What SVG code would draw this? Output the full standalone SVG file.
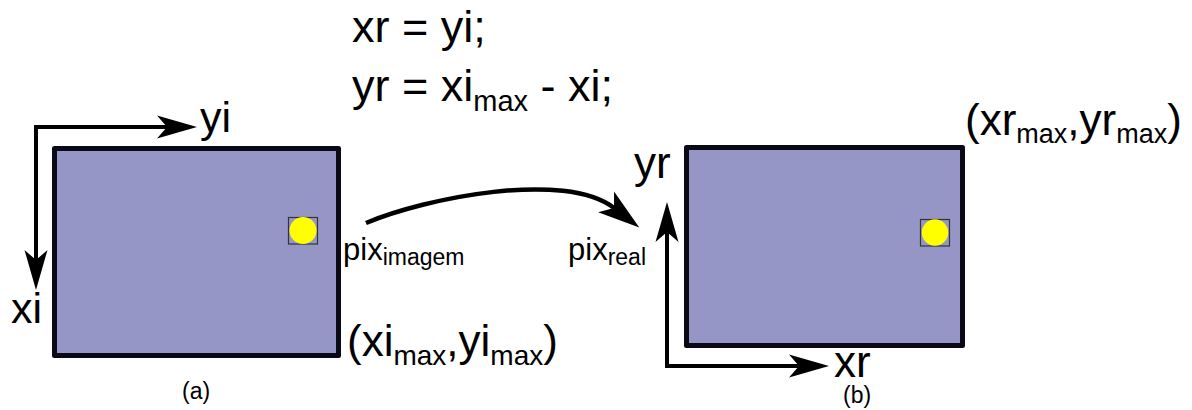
<svg xmlns="http://www.w3.org/2000/svg" width="1192" height="410" viewBox="0 0 1192 410">
<style>
text{font-family:"Liberation Sans",Arial,sans-serif;fill:#000}
.frame{fill:#9696c6;stroke:#0a0a16;stroke-width:5;stroke-linejoin:round}
.pixbox{fill:none;stroke:#333;stroke-width:1.2}
.dot{fill:#ffff00}
.ax{fill:none;stroke:#000;stroke-width:4;stroke-linejoin:miter}
.cv{fill:none;stroke:#000;stroke-width:4.5}
</style>
<defs>
<marker id="ah" markerUnits="userSpaceOnUse" markerWidth="60" markerHeight="60" refX="0" refY="0" viewBox="-20 -30 60 60" orient="auto-start-reverse" overflow="visible">
<path d="M30,0 L-10,-11.5 L0,0 L-10,11.5 Z" fill="#000"/>
</marker>
<marker id="ah2" markerUnits="userSpaceOnUse" markerWidth="60" markerHeight="60" refX="0" refY="0" viewBox="-20 -30 60 60" orient="auto" overflow="visible">
<path d="M32,0 L-10,-13 L0,0 L-10,13 Z" fill="#000"/>
</marker>
</defs>
<g id="formula">
<text x="352" y="42" font-size="45">xr = yi;</text>
<text x="352" y="101" font-size="45">yr = xi<tspan font-size="29" dy="10">max</tspan><tspan dy="-10"> - xi;</tspan></text>
</g>
<g id="image-a">
<rect class="frame" x="54.5" y="148.5" width="284" height="207"/>
<rect class="pixbox" x="288.5" y="217.5" width="29" height="26.5"/>
<circle class="dot" cx="303" cy="230.5" r="13.5"/>
<text x="200" y="132" font-size="43">yi</text>
<text x="11" y="323" font-size="43">xi</text>
<text x="347" y="356" font-size="44">(xi<tspan font-size="28" dy="9">max</tspan><tspan dy="-9">,yi</tspan><tspan font-size="28" dy="9">max</tspan><tspan dy="-9">)</tspan></text>
<text x="343" y="260" font-size="31">pix<tspan font-size="23" dy="5">imagem</tspan></text>
<text x="182" y="399" font-size="23">(a)</text>
</g>
<g id="image-b">
<rect class="frame" x="686.5" y="147.5" width="276" height="198"/>
<rect class="pixbox" x="920.5" y="219.5" width="29" height="26.5"/>
<circle class="dot" cx="935" cy="232.5" r="13.2"/>
<text x="634" y="178" font-size="44">yr</text>
<text x="834" y="377" font-size="44">xr</text>
<text x="965" y="135" font-size="44">(xr<tspan font-size="27" dy="8">max</tspan><tspan dy="-8">,yr</tspan><tspan font-size="27" dy="8">max</tspan><tspan dy="-8">)</tspan></text>
<text x="568" y="260" font-size="31">pix<tspan font-size="23" dy="5">real</tspan></text>
<text x="843" y="403" font-size="23">(b)</text>
</g>
<g id="connectors">
<path class="ax" d="M167,127 H36 V260" marker-start="url(#ah)" marker-end="url(#ah)"/>
<path class="ax" d="M667,232 V366 H799" marker-start="url(#ah)" marker-end="url(#ah)"/>
<path class="cv" d="M366,223 C425,198 565,170 614,208" marker-end="url(#ah2)"/>
</g>
</svg>
